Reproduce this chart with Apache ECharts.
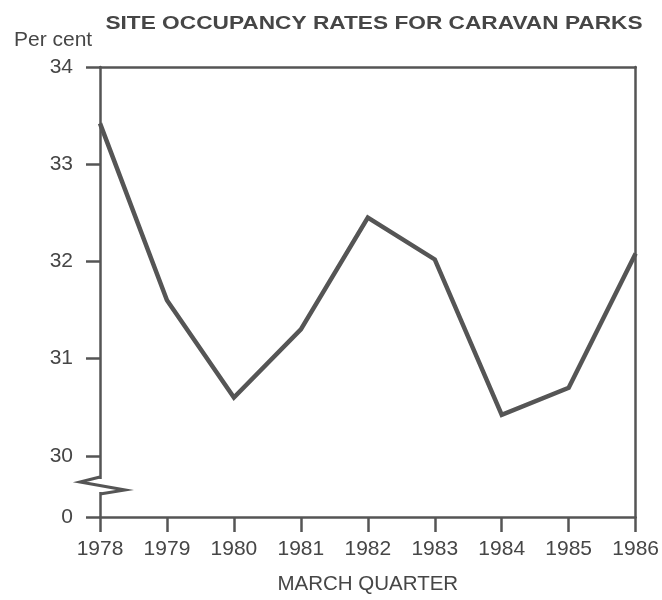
<!DOCTYPE html>
<html>
<head>
<meta charset="utf-8">
<script src="https://cdn.jsdelivr.net/npm/echarts@6/dist/echarts.min.js"></script>
<style>html,body{margin:0;padding:0;background:#fff}#c{width:662px;height:600px}</style>
</head>
<body>
<div id="c"></div>
<script>
const years = ['1978','1979','1980','1981','1982','1983','1984','1985','1986'];
const occupancy = [33.42, 31.6, 30.6, 31.3, 32.45, 32.02, 30.42, 30.7, 32.08];
const yTickValues = [30, 31, 32, 33, 34];
const yFloor = 29.37; // value at the broken-axis baseline, labelled "0"
const yMax = 34;

const ink = '#464646';
const font = 'Liberation Sans';

const chart = echarts.init(document.getElementById('c'));
const axisLineStyle = {color: '#555', width: 2.5};

chart.setOption({
  animation: false,
  backgroundColor: '#fff',
  grid: {left: 100, right: 21, top: 67, bottom: 78},
  xAxis: [{
    type: 'category', data: years, boundaryGap: false,
    axisLine: {lineStyle: axisLineStyle},
    axisTick: {length: 15, lineStyle: axisLineStyle},
    axisLabel: {margin: 22, fontSize: 21, fontFamily: font, color: ink},
    name: 'MARCH QUARTER', nameLocation: 'middle', nameGap: 57,
    nameTextStyle: {fontSize: 20.5, fontFamily: font, color: ink},
    splitLine: {show: false}
  }, {
    type: 'category', data: years, boundaryGap: false, position: 'top',
    axisLine: {lineStyle: axisLineStyle}, axisTick: {show: false}, axisLabel: {show: false}
  }],
  yAxis: [{
    type: 'value', min: yFloor, max: yMax,
    axisLine: {show: true, lineStyle: axisLineStyle},
    axisTick: {show: true, length: 14, lineStyle: axisLineStyle, customValues: [yFloor].concat(yTickValues)},
    axisLabel: {margin: 27, fontSize: 21, fontFamily: font, color: ink, padding: [4, 0, 0, 0],
      customValues: [yFloor].concat(yTickValues),
      formatter: v => (v < 29.9 ? '0' : String(Math.round(v)))},
    splitLine: {show: false}
  }, {
    type: 'value', min: yFloor, max: yMax, position: 'right',
    axisLine: {show: true, lineStyle: axisLineStyle}, axisTick: {show: false},
    axisLabel: {show: false}, splitLine: {show: false}
  }],
  series: [{
    type: 'line', data: occupancy, symbol: 'none',
    lineStyle: {color: '#555', width: 4.5, join: 'miter'}
  }]
});

const ax = chart.convertToPixel({xAxisIndex: 0}, 0);
const zeroY = chart.convertToPixel({yAxisIndex: 0}, yFloor);
chart.setOption({
  graphic: [
    {type: 'text', x: 374, y: 24, scaleX: 1.26, z: 10,
      style: {text: 'SITE OCCUPANCY RATES FOR CARAVAN PARKS', font: 'bold 18px "Liberation Sans"',
        fill: ink, textAlign: 'center', textVerticalAlign: 'middle'}},
    {type: 'text', x: 14, y: 40, scaleX: 1.05, z: 10,
      style: {text: 'Per cent', font: '20px "Liberation Sans"', fill: ink,
        textAlign: 'left', textVerticalAlign: 'middle'}},
    {type: 'rect', z: 20, shape: {x: ax - 4, y: zeroY - 38, width: 8, height: 13}, style: {fill: '#fff'}},
    {type: 'polyline', z: 21,
      shape: {points: [[ax, zeroY - 40], [ax - 20, zeroY - 35], [ax + 25, zeroY - 27], [ax, zeroY - 23]]},
      style: {stroke: '#555', lineWidth: 3, fill: null, lineJoin: 'miter'}}
  ]
});
</script>
</body>
</html>
